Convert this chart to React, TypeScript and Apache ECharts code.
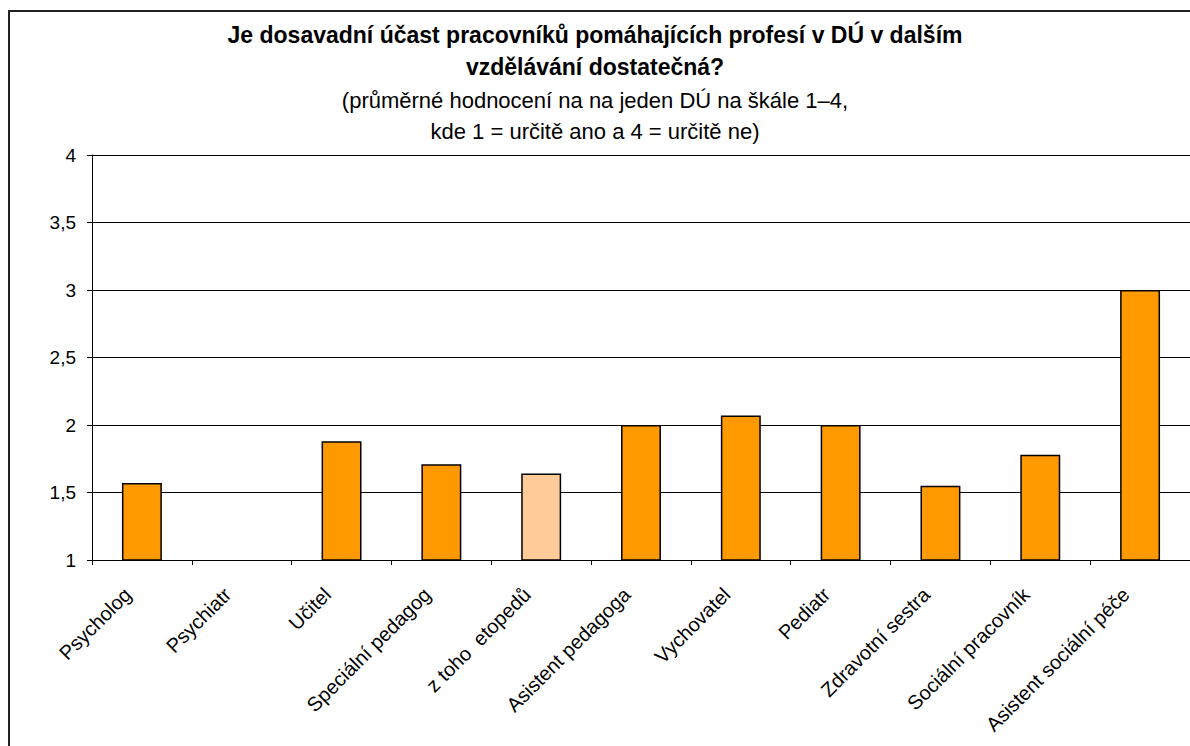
import React, { useEffect, useRef } from "react";
import * as echarts from "echarts";

const categories = [
  "Psycholog",
  "Psychiatr",
  "Učitel",
  "Speciální pedagog",
  "z toho  etopedů",
  "Asistent pedagoga",
  "Vychovatel",
  "Pediatr",
  "Zdravotní sestra",
  "Sociální pracovník",
  "Asistent sociální péče",
];
const values: (number | null)[] = [1.57, null, 1.88, 1.71, 1.64, 2.0, 2.07, 2.0, 1.55, 1.78, 3.0];
const highlightIndex = 4;
const yTicks = { min: 1, max: 4, interval: 0.5 };

const titleLines = [
  "Je dosavadní účast pracovníků pomáhajících profesí v DÚ v dalším",
  "vzdělávání dostatečná?",
];
const subtitleLines = [
  "(průměrné hodnocení na na jeden DÚ na škále 1–4,",
  "kde 1 = určitě ano a 4 = určitě ne)",
];

export default function App() {
  const ref = useRef<HTMLDivElement>(null);
  useEffect(() => {
    if (!ref.current) return;
    const chart = echarts.init(ref.current, null, { renderer: "svg" });
    const font = "'Liberation Sans', Arial, sans-serif";
    chart.setOption({
      animation: false,
      backgroundColor: "#fff",
      textStyle: { fontFamily: font },
      title: {
        text: titleLines.join("\n"),
        subtext: subtitleLines.join("\n"),
        left: 590,
        textAlign: "center",
        top: 14,
        itemGap: 2,
        textStyle: { fontFamily: font, fontSize: 23, fontWeight: "bold", color: "#000", lineHeight: 32 },
        subtextStyle: { fontFamily: font, fontSize: 22, color: "#000", lineHeight: 31 },
      },
      graphic: [
        {
          type: "rect",
          shape: { x: 9, y: 11, width: 1400, height: 1000 },
          style: { fill: "none", stroke: "#222", lineWidth: 2 },
          silent: true,
        },
      ],
      grid: { left: 92, top: 155, right: 0, bottom: 186, containLabel: false },
      xAxis: {
        type: "category",
        data: categories,
        axisLine: { show: true, lineStyle: { color: "#000", width: 1 } },
        axisTick: { show: true, length: 5, lineStyle: { color: "#000" } },
        axisLabel: {
          interval: 0,
          rotate: 45,
          fontSize: 20,
          color: "#000",
          fontFamily: font,
          margin: 17,
          padding: [0, 20, 0, 0],
        },
      },
      yAxis: {
        type: "value",
        min: yTicks.min,
        max: yTicks.max,
        interval: yTicks.interval,
        axisLine: { show: true, lineStyle: { color: "#000", width: 1 } },
        axisTick: { show: true, length: 5, lineStyle: { color: "#000" } },
        splitLine: { show: true, lineStyle: { color: "#000", width: 1 } },
        axisLabel: {
          fontSize: 19,
          color: "#000",
          fontFamily: font,
          margin: 16,
          formatter: (v: number) => String(v).replace(".", ","),
        },
      },
      series: [
        {
          type: "bar",
          barWidth: "40%",
          data: values.map((v, i) => ({
            value: v,
            itemStyle: {
              color: i === highlightIndex ? "#FFCC99" : "#FF9900",
              borderColor: "#000",
              borderWidth: 1.5,
            },
          })),
        },
      ],
    });
    return () => chart.dispose();
  }, []);
  return (
    <div
      ref={ref}
      style={{ position: "fixed", left: 0, top: 0, width: 1190, height: 746 }}
    />
  );
}
